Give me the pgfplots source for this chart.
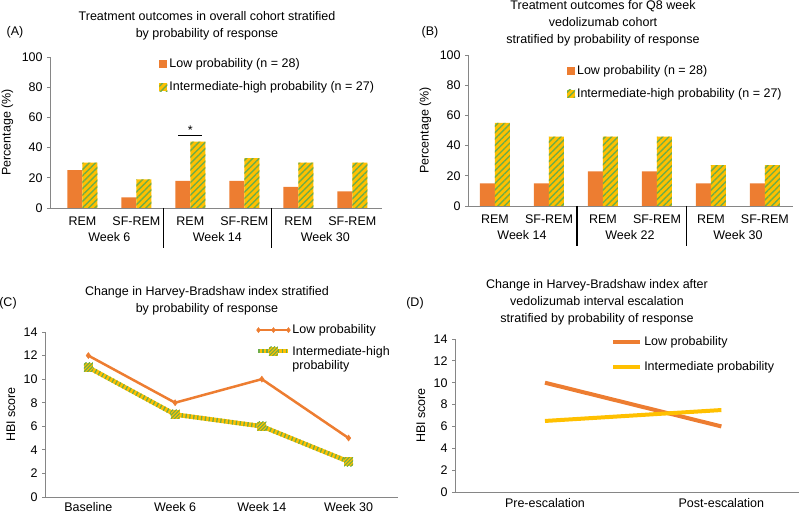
\documentclass[border=0pt]{standalone}
\usepackage{fontspec}
\setmainfont{Liberation Sans}
\usepackage{pgfplots}
\pgfplotsset{compat=1.18}
\usetikzlibrary{patterns.meta}
\definecolor{cor}{HTML}{ED7D31}
\definecolor{cye}{HTML}{FFC000}
\definecolor{cgr}{HTML}{70AD47}
\definecolor{axg}{HTML}{868686}
\newcommand{\myfs}{\fontsize{12.5bp}{14bp}\selectfont}
\newcommand{\myft}{\fontsize{12.5bp}{17bp}\selectfont}
\pgfdeclareplotmark{hsq}{%
  \pgfpathrectangle{\pgfpoint{-4.5bp}{-4.5bp}}{\pgfpoint{9bp}{9bp}}%
  \pgfsetfillcolor{cye}\pgfusepath{fill}%
  \begin{pgfscope}%
  \pgfpathrectangle{\pgfpoint{-4.5bp}{-4.5bp}}{\pgfpoint{9bp}{9bp}}\pgfusepath{clip}%
  \pgfsetstrokecolor{cgr}\pgfsetlinewidth{1.1bp}%
  \pgfpathmoveto{\pgfpoint{-12bp}{-5bp}}\pgfpathlineto{\pgfpoint{-2bp}{5bp}}%
  \pgfpathmoveto{\pgfpoint{-8.5bp}{-5bp}}\pgfpathlineto{\pgfpoint{1.5bp}{5bp}}%
  \pgfpathmoveto{\pgfpoint{-5bp}{-5bp}}\pgfpathlineto{\pgfpoint{5bp}{5bp}}%
  \pgfpathmoveto{\pgfpoint{-1.5bp}{-5bp}}\pgfpathlineto{\pgfpoint{8.5bp}{5bp}}%
  \pgfpathmoveto{\pgfpoint{2bp}{-5bp}}\pgfpathlineto{\pgfpoint{12bp}{5bp}}%
  \pgfusepath{stroke}%
  \end{pgfscope}%
}
\pgfplotsset{
  panel/.style={
    scale only axis, anchor=south west, clip=false,
    font=\myfs,
    axis lines*=left,
    axis line style={axg, line width=0.8bp},
    every tick/.style={axg, line width=0.8bp},
    tick align=outside, major tick length=3bp,
    xtick style={draw=none},
    tick label style={font=\myfs, text=black},
    label style={font=\myfs},
    /pgf/number format/assume math mode=true,
    legend cell align=left,
  },
  hatch/.style={fill=cye, draw=none, postaction={pattern={Lines[angle=45,distance=4.5bp,line width=1.4bp]}, pattern color=cgr}},
  sqleg/.style={legend image code/.code={\draw[##1,draw=none] (0bp,-4bp) rectangle (8bp,4bp);}},
  markleg/.style={legend image code/.code={\draw[##1, mark size=2.5bp] plot coordinates {(0bp,0bp)(15bp,0bp)(30bp,0bp)};}},
  lineleg/.style={legend image code/.code={\draw[##1] (0bp,0bp) -- (27bp,0bp);}},
  intleg/.style={legend image code/.code={
    \draw[cye, line width=4bp] (0bp,0bp) -- (30bp,0bp);
    \draw[cgr, line width=4bp, dash pattern=on 1.3bp off 2.6bp] (0bp,0bp) -- (30bp,0bp);
    \begin{scope}[shift={(15bp,0bp)}]\pgfuseplotmark{hsq}\end{scope}}},
}
\begin{document}
\myfs
\begin{tikzpicture}[font=\myfs]
\useasboundingbox (0,0) rectangle (800bp,513bp);

% ---------- Panel A ----------
\node[font=\myft, align=center] at (207bp,487.5bp) {Treatment outcomes in overall cohort stratified\\by probability of response};
\node at (15bp,481bp) {(A)};
\begin{axis}[panel, at={(50bp,305bp)}, width=332bp, height=151bp,
  ymin=0, ymax=100, ytick={0,20,...,100},
  xmin=-0.6, xmax=5.55, xtick={0,...,5},
  xticklabels={REM,SF-REM,REM,SF-REM,REM,SF-REM},
  xticklabel style={anchor=center, yshift=-10bp},
  ybar=0pt, bar width=15bp,
  ylabel={Percentage (\%)},
  legend style={at={(rel axis cs:0.32,1.015)}, anchor=north west, draw=none, fill=none, font=\myfs, row sep=8bp},
  sqleg]
\addplot[fill=cor, draw=none] coordinates {(0,25) (1,7) (2,18) (3,18) (4,14) (5,11)};
\addlegendentry{Low probability (n = 28)}
\addplot[hatch] coordinates {(0,30) (1,19) (2,44) (3,33) (4,30) (5,30)};
\addlegendentry{Intermediate-high probability (n = 27)}
\draw[black, line width=1.2bp] (axis cs:1.5,0) -- ([yshift=-40bp]axis cs:1.5,0);
\draw[black, line width=1.2bp] (axis cs:3.5,0) -- ([yshift=-40bp]axis cs:3.5,0);
\node at ([yshift=-29bp]axis cs:0.5,0) {Week 6};
\node at ([yshift=-29bp]axis cs:2.5,0) {Week 14};
\node at ([yshift=-29bp]axis cs:4.5,0) {Week 30};
\draw[black, line width=0.8bp] (axis cs:1.78,48) -- (axis cs:2.22,48);
\node[anchor=south, inner sep=1bp] at (axis cs:2,48) {*};
\end{axis}

% ---------- Panel B ----------
\node[font=\myft, align=center] at (603bp,490bp) {Treatment outcomes for Q8 week\\vedolizumab cohort\\stratified by probability of response};
\node at (430bp,481bp) {(B)};
\begin{axis}[panel, at={(468bp,307bp)}, width=325bp, height=151bp,
  ymin=0, ymax=100, ytick={0,20,...,100},
  xmin=-0.5, xmax=5.52, xtick={0,...,5},
  xticklabels={REM,SF-REM,REM,SF-REM,REM,SF-REM},
  xticklabel style={anchor=center, yshift=-10bp},
  ybar=0pt, bar width=15bp,
  ylabel={Percentage (\%)},
  legend style={at={(rel axis cs:0.295,0.96)}, anchor=north west, draw=none, fill=none, font=\myfs, row sep=8bp},
  sqleg]
\addplot[fill=cor, draw=none] coordinates {(0,15) (1,15) (2,23) (3,23) (4,15) (5,15)};
\addlegendentry{Low probability (n = 28)}
\addplot[hatch] coordinates {(0,55) (1,46) (2,46) (3,46) (4,27) (5,27)};
\addlegendentry{Intermediate-high probability (n = 27)}
\draw[black, line width=1.2bp] (axis cs:1.52,0) -- ([yshift=-40bp]axis cs:1.52,0);
\draw[black, line width=1.2bp] (axis cs:3.55,0) -- ([yshift=-40bp]axis cs:3.55,0);
\node at ([yshift=-29bp]axis cs:0.5,0) {Week 14};
\node at ([yshift=-29bp]axis cs:2.5,0) {Week 22};
\node at ([yshift=-29bp]axis cs:4.5,0) {Week 30};
\end{axis}

% ---------- Panel C ----------
\node[font=\myft, align=center] at (207bp,212.5bp) {Change in Harvey-Bradshaw index stratified\\by probability of response};
\node at (8bp,210bp) {(C)};
\begin{axis}[panel, at={(45bp,16bp)}, width=353bp, height=165bp,
  ymin=0, ymax=14, ytick={0,2,...,14},
  xmin=-0.5, xmax=3.57, xtick={0,...,3},
  xticklabels={Baseline,Week 6,Week 14,Week 30},
  xticklabel style={anchor=center, yshift=-7bp},
  ylabel={HBI score},
  legend style={at={(rel axis cs:0.59,1.07)}, anchor=north west, draw=none, fill=none, font=\myfs, row sep=6bp},
  ]
\addplot[cor, line width=2.5bp, mark=diamond*, mark size=3bp, mark options={fill=cor, line width=0.5bp}, markleg]
  coordinates {(0,12) (1,8) (2,10) (3,5)};
\addlegendentry{Low probability}
\addlegendimage{intleg}
\addlegendentry{\begin{tabular}[t]{@{}l@{}}Intermediate-high\\probability\end{tabular}}
\addplot[cye, line width=4.5bp, forget plot] coordinates {(0,11) (1,7) (2,6) (3,3)};
\addplot[cgr, line width=4.5bp, dash pattern=on 1.3bp off 2.6bp, forget plot] coordinates {(0,11) (1,7) (2,6) (3,3)};
\addplot[only marks, mark=hsq, forget plot]
  coordinates {(0,11) (1,7) (2,6) (3,3)};
\end{axis}

% ---------- Panel D ----------
\node[font=\myft, align=center] at (597bp,211bp) {Change in Harvey-Bradshaw index after\\vedolizumab interval escalation\\stratified by probability of response};
\node at (415bp,210bp) {(D)};
\begin{axis}[panel, at={(455bp,21bp)}, width=344bp, height=153bp,
  ymin=0, ymax=14, ytick={0,2,...,14},
  xmin=-0.51, xmax=1.44, xtick={0,1},
  xticklabels={Pre-escalation,Post-escalation},
  xticklabel style={anchor=center, yshift=-8bp},
  ylabel={HBI score},
  legend style={at={(rel axis cs:0.445,1.045)}, anchor=north west, draw=none, fill=none, font=\myfs, row sep=10bp},
  lineleg,
  ]
\addplot[cor, line width=4bp] coordinates {(0,10) (1,6)};
\addlegendentry{Low probability}
\addplot[cye, line width=4bp] coordinates {(0,6.5) (1,7.5)};
\addlegendentry{Intermediate probability}
\end{axis}
\end{tikzpicture}
\end{document}
